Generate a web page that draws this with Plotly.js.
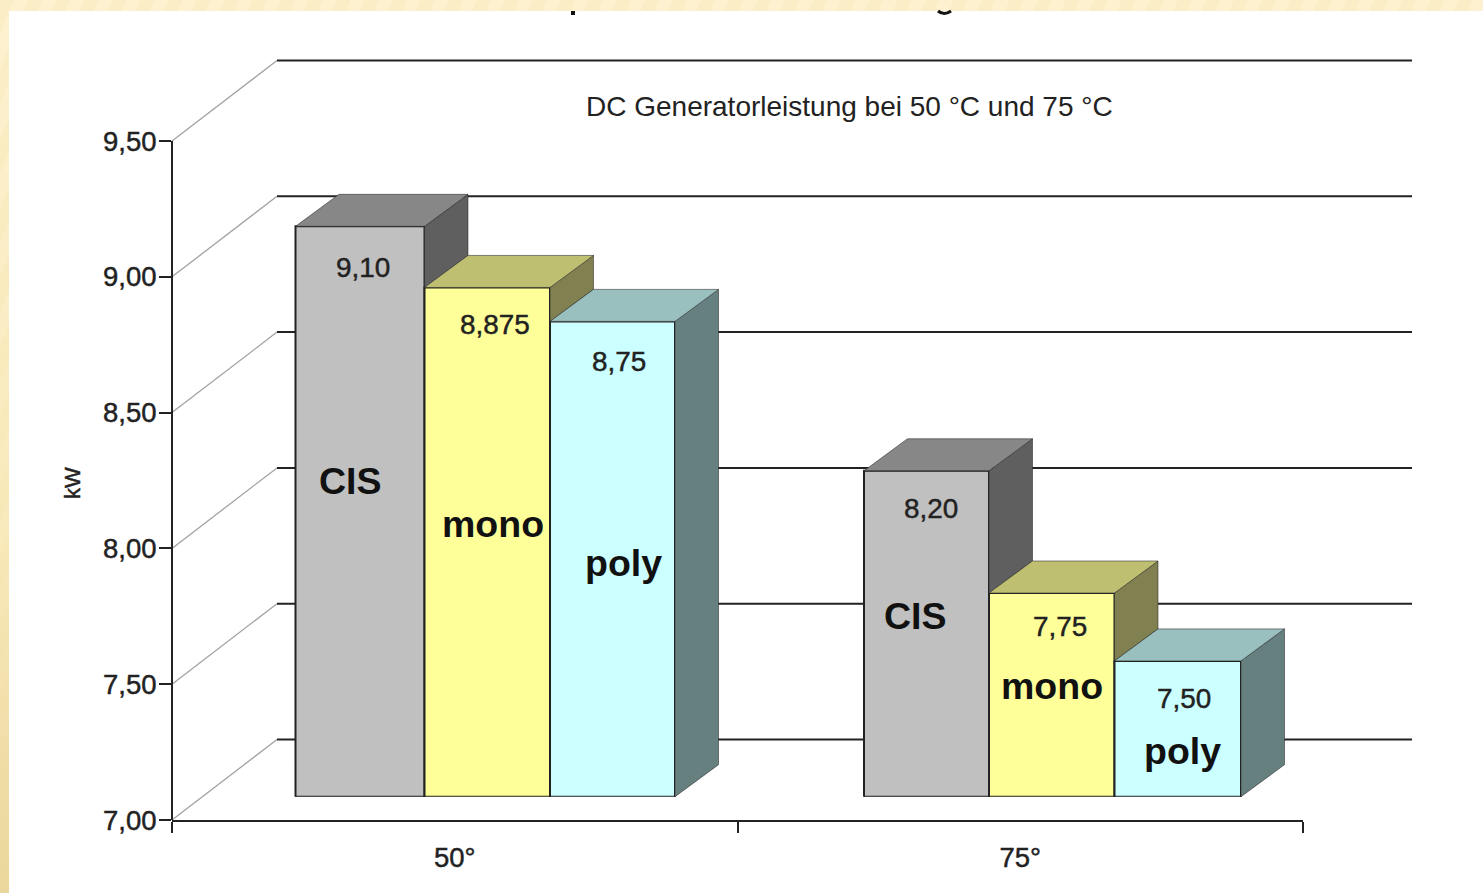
<!DOCTYPE html>
<html>
<head>
<meta charset="utf-8">
<script src="https://cdn.plot.ly/plotly-3.0.1.min.js"></script>
<style>
  html, body { margin: 0; padding: 0; width: 1483px; height: 893px; overflow: hidden; }
  body {
    background:
      linear-gradient(180deg, rgba(251,238,198,0) 0%, rgba(246,228,174,.6) 60%, rgba(232,212,150,.9) 100%) left top / 9px 100% no-repeat,
      repeating-linear-gradient(112deg, #fbeec6 0 13px, #fdf1d0 13px 26px);
  }
  #sheet { position: absolute; left: 9px; top: 11px; right: 0; bottom: 0; background: #fff; }
  #chart { position: absolute; left: 0; top: 0; width: 1483px; height: 893px; }
  /* Axis numbers and value labels carry a slightly heavier stroke than the regular face */
  #chart .xtick text, #chart .ytick text,
  #chart text[style*="font-size: 27.9px"], #chart text[style*="font-size: 22px"] {
    stroke: #222222; stroke-width: 0.45px;
  }
</style>
</head>
<body>
<div id="sheet"></div>
<div id="chart"></div>
<script>
// DC generator output per module technology, at two module temperatures
const categories = ['50°', '75°'];
const technologies = ['CIS', 'mono', 'poly'];
const cisValues = [9.10, 8.20];
const monoValues = [8.875, 7.75];
const polyValues = [8.75, 7.50];
const cisLabels = ['9,10', '8,20'];
const monoLabels = ['8,875', '7,75'];
const polyLabels = ['8,75', '7,50'];
const yTicks = [7, 7.5, 8, 8.5, 9, 9.5];

const seriesValues = [cisValues, monoValues, polyValues];
const seriesLabels = [cisLabels, monoLabels, polyLabels];
const frontColors = ['#c0c0c0', '#ffff99', '#ccffff'];
const topColors = ['#878787', '#bfbf72', '#99bfbf'];
const sideColors = ['#5f5f5f', '#808050', '#668080'];
const INK = '#222222';
const FONT = '"Liberation Sans", Arial, sans-serif';

// Plot frame and pseudo-3D projection, in page pixels
const W = 1483, H = 893;
const frameL = 172, frameR = 1303, frameT = 50, frameB = 820;
const pxPerKw = 271.6;
const wallDx = 105, wallDy = 80.5;
const floorLift = 23.3;
const blockDx = 43.5, blockDy = 32;
const groupCenterPx = [485, 1052.5];
const unitPx = groupCenterPx[1] - groupCenterPx[0];
// Block edges per temperature group, left to right
const blockEdgesPx = [[295.5, 424.5, 550, 675], [864, 989, 1114.5, 1241]];
const edge = (g, k) => g + (blockEdgesPx[g][k] - groupCenterPx[g]) / unitPx;

const x3Range = [(frameL - groupCenterPx[0]) / unitPx, (frameR - groupCenterPx[0]) / unitPx];
const yTop = 7 + (frameB - frameT) / pxPerKw;
const y2Top = 7 + (frameB - floorLift - frameT) / pxPerKw;
const dxU = blockDx / unitPx;
const dyU = blockDy / pxPerKw;

const traces = [];

// Keeps the category axis populated
traces.push({ type: 'scatter', x: categories, y: [7, 7], mode: 'none', xaxis: 'x', yaxis: 'y', hoverinfo: 'skip' });

// Front faces
technologies.forEach((name, s) => {
  traces.push({
    type: 'bar', name, x: [0, 1], y: seriesValues[s], xaxis: 'x3', yaxis: 'y2',
    offset: [0, 1].map(g => edge(g, s) - g),
    width: [0, 1].map(g => edge(g, s + 1) - edge(g, s)),
    marker: { color: frontColors[s], line: { color: INK, width: 2 } }
  });
});

// Side and top faces of each block; a side stops where the next block's top begins
const faceLine = { color: 'rgba(40,40,40,0.55)', width: 1 };
categories.forEach((_, g) => {
  technologies.forEach((_, s) => {
    const v = seriesValues[s][g];
    const x0 = edge(g, s);
    const x1 = edge(g, s + 1);
    const lower = s < 2 ? seriesValues[s + 1][g] : 7;
    traces.push({
      type: 'scatter', mode: 'lines', xaxis: 'x3', yaxis: 'y2', fill: 'toself', cliponaxis: false,
      fillcolor: sideColors[s], line: faceLine, hoverinfo: 'skip',
      x: [x1, x1 + dxU, x1 + dxU, x1, x1],
      y: [v, v + dyU, lower + dyU, lower, v]
    });
    traces.push({
      type: 'scatter', mode: 'lines', xaxis: 'x3', yaxis: 'y2', fill: 'toself', cliponaxis: false,
      fillcolor: topColors[s], line: faceLine, hoverinfo: 'skip',
      x: [x0, x1, x1 + dxU, x0 + dxU, x0],
      y: [v, v, v + dyU, v + dyU, v]
    });
  });
  // Front edge along the floor
  traces.push({
    type: 'scatter', mode: 'lines', xaxis: 'x3', yaxis: 'y2', cliponaxis: false, hoverinfo: 'skip',
    line: { color: INK, width: 2 },
    x: [edge(g, 0), edge(g, 3)], y: [7, 7]
  });
});

// Back wall and floor-side rules
const shapes = [];
const wallDyU = wallDy / pxPerKw;
const wallFrac = wallDx / (frameR - frameL);
const ruleEnd = (1412 - frameL) / (frameR - frameL);
yTicks.forEach(t => {
  shapes.push({
    type: 'line', layer: 'below', xref: 'x domain', yref: 'y',
    x0: 0, x1: wallFrac, y0: t, y1: t + wallDyU,
    line: { color: '#a2a2a2', width: 1.3 }
  });
  shapes.push({
    type: 'line', layer: 'below', xref: 'x domain', yref: 'y',
    x0: wallFrac, x1: ruleEnd, y0: t + wallDyU, y1: t + wallDyU,
    line: { color: INK, width: 2 }
  });
});
shapes.push({
  type: 'line', layer: 'below', xref: 'x domain', yref: 'y',
  x0: 0, x1: 0, y0: 7, y1: 9.5, line: { color: INK, width: 2 }
});

// Page-pixel helpers for free-standing text
const px = v => (v - frameL) / (frameR - frameL);
const py = v => (frameB - v) / (frameB - frameT);
const note = (text, xPx, yPx, size, extra) => Object.assign({
  text, x: px(xPx), y: py(yPx), xref: 'paper', yref: 'paper',
  xanchor: 'center', yanchor: 'middle', showarrow: false,
  font: { family: FONT, size, color: INK }
}, extra || {});

const valueLabelPx = [
  [[363, 267], [931, 508]],
  [[495, 325], [1060, 626]],
  [[619, 361], [1184, 698]]
];
const nameLabelPx = [
  [[350, 481], [915, 616]],
  [[493, 524], [1052, 686]],
  [[623, 563], [1182, 751]]
];

const annotations = [
  note('DC Generatorleistung bei 50 °C und 75 °C', 849.5, 106, 28),
  note('kW', 72, 483, 22, { textangle: -90 })
];
technologies.forEach((name, s) => {
  categories.forEach((_, g) => {
    annotations.push(note(seriesLabels[s][g], valueLabelPx[s][g][0], valueLabelPx[s][g][1], 27.9));
    annotations.push(note(name, nameLabelPx[s][g][0], nameLabelPx[s][g][1], 37.5,
      { font: { family: FONT, size: 37.5, color: '#111111', weight: 700 } }));
  });
});

const layout = {
  width: W, height: H,
  paper_bgcolor: 'rgba(0,0,0,0)', plot_bgcolor: 'rgba(0,0,0,0)',
  separators: ',.',
  showlegend: false,
  margin: { l: frameL, r: W - frameR, t: frameT, b: H - frameB, pad: 0, autoexpand: false },
  font: { family: FONT, size: 26, color: INK },
  xaxis: {
    type: 'category', categoryorder: 'array', categoryarray: categories,
    range: [-0.5, 1.5], tickson: 'boundaries', ticks: 'outside', ticklen: 11, tickwidth: 2,
    tickcolor: INK, showline: true, linecolor: INK, linewidth: 2, showgrid: false, zeroline: false,
    ticklabelstandoff: 12,
    tickfont: { family: FONT, size: 27.5, color: INK }
  },
  yaxis: {
    range: [7, yTop], tickmode: 'array', tickvals: yTicks, tickformat: '.2f',
    ticks: 'outside', ticklen: 12, tickwidth: 2, tickcolor: INK,
    showline: false, showgrid: false, zeroline: false,
    ticklabelstandoff: -3,
    tickfont: { family: FONT, size: 27.5, color: INK }
  },
  xaxis3: { visible: false, range: x3Range, anchor: 'y2', domain: [0, 1], fixedrange: true },
  yaxis2: {
    visible: false, range: [7, y2Top], anchor: 'x3',
    domain: [floorLift / (frameB - frameT), 1], fixedrange: true
  },
  shapes: shapes.concat([
    // Remains of the heading where the sheet's top edge cuts it off
    { type: 'rect', xref: 'paper', yref: 'paper', x0: px(571), x1: px(575), y0: py(11), y1: py(15), fillcolor: '#111', line: { width: 0 } },
    { type: 'path', xref: 'paper', yref: 'paper', fillcolor: 'rgba(0,0,0,0)', line: { color: '#111', width: 3 },
      path: `M ${px(938)} ${py(11)} Q ${px(944)} ${py(16)} ${px(951)} ${py(11)}` }
  ]),
  annotations
};

Plotly.newPlot('chart', traces, layout, { staticPlot: true, displayModeBar: false });
</script>
</body>
</html>
